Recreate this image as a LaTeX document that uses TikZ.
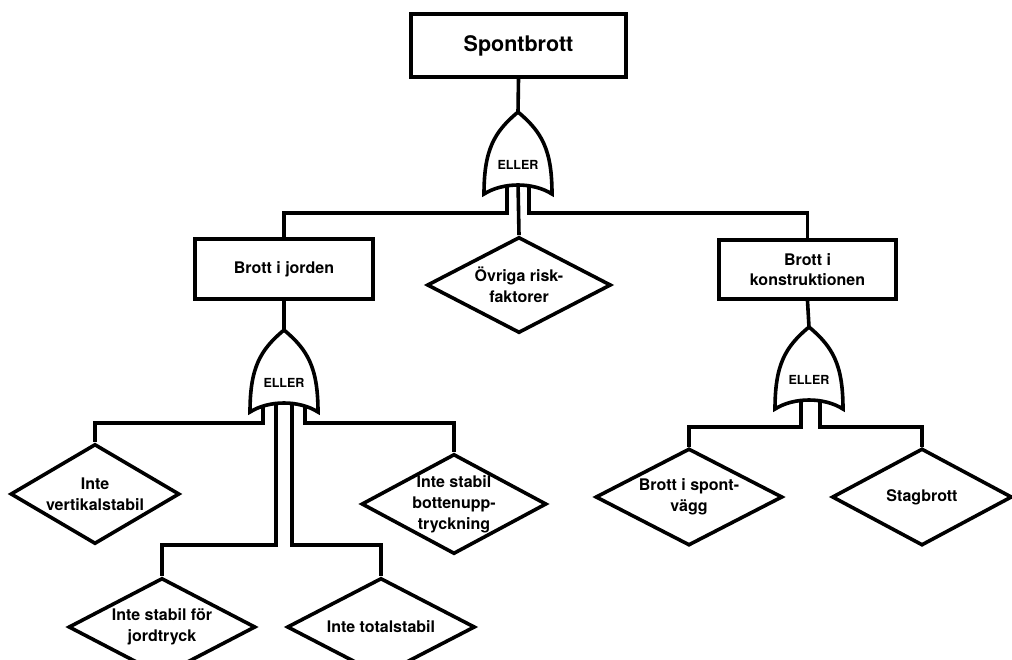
\documentclass[tikz,border=0pt]{standalone}
\usepackage{fontspec}
\setmainfont{TeX Gyre Heros}
\usetikzlibrary{shapes.geometric}
\pgfdeclarelayer{background}
\pgfsetlayers{background,main}

\tikzset{
  event/.style={draw, rectangle, fill=white, inner sep=0pt, align=center,
    font=\fontsize{16}{20}\selectfont\bfseries},
  topevent/.style={event, font=\fontsize{21.5}{26}\selectfont\bfseries},
  basic/.style={draw, diamond, fill=white, inner sep=0pt},
  basictext/.style={align=center, inner sep=0pt,
    font=\fontsize{16}{21}\selectfont\bfseries},
  gatetext/.style={inner sep=0pt, font=\fontsize{12.5}{14}\selectfont\bfseries},
  conn/.style={draw, line width=3.6pt},
  % OR gate with its apex at the origin and inputs along the bottom
  orgate/.pic={
    \draw[fill=white] (0,0) .. controls (-24,20) and (-34,38) .. (-34,82)
       .. controls (-15,70) and (15,70) .. (34,82)
       .. controls (34,38) and (24,20) .. (0,0) -- cycle;
    \node[gatetext] (-label) at (0,53) {ELLER};
    \coordinate (-top) at (0,0);
    \coordinate (-l3) at (-21,70);
    \coordinate (-l2) at (-11,70);
    \coordinate (-l1) at (-8,70);
    \coordinate (-c)  at (0,70);
    \coordinate (-r1) at (8,70);
    \coordinate (-r2) at (11,70);
    \coordinate (-r3) at (21,70);
  }
}

\begin{document}
\begin{tikzpicture}[x=1pt, y=-1pt, line width=3.6pt]
  \useasboundingbox (0,0) rectangle (1012,659);

  % events
  \node[topevent, minimum width=215pt, minimum height=63pt] (top) at (518.5,45.5) {Spontbrott};
  \node[event, minimum width=178pt, minimum height=60pt] (jorden) at (284,269) {Brott i jorden};
  \node[event, minimum width=177pt, minimum height=59pt] (konstr) at (807.5,269.5) {Brott i\\konstruktionen};

  % gates
  \pic (g1) at (518,112) {orgate};
  \pic (g2) at (284,330) {orgate};
  \pic (g3) at (809,327) {orgate};

  % basic events
  \node[basic, minimum width=184pt, minimum height=96pt,
        label={[basictext]center:{Övriga risk-\\faktorer}}] (ovriga) at (519,285) {};
  \node[basic, minimum width=169pt, minimum height=100pt,
        label={[basictext]center:{Inte\\vertikalstabil}}] (vert) at (95,494) {};
  \node[basic, minimum width=185pt, minimum height=100pt,
        label={[basictext]center:{Inte stabil\\bottenupp-\\tryckning}}] (botten) at (454,504) {};
  \node[basic, minimum width=187pt, minimum height=98pt,
        label={[basictext]center:{Inte stabil för\\jordtryck}}] (jord) at (162,627) {};
  \node[basic, minimum width=188pt, minimum height=98pt,
        label={[basictext]center:{Inte totalstabil}}] (total) at (381,627) {};
  \node[basic, minimum width=187pt, minimum height=97pt,
        label={[basictext]center:{Brott i spont-\\vägg}}] (spont) at (689,497) {};
  \node[basic, minimum width=180pt, minimum height=97pt,
        label={[basictext]center:{Stagbrott}}] (stag) at (922,497) {};

  % levels of the horizontal connector runs
  \coordinate (bus1) at (0,213);
  \coordinate (bus2) at (0,423);
  \coordinate (bus3) at (0,545);
  \coordinate (bus4) at (0,427);

  \begin{pgfonlayer}{background}
    \fill[white] (0,0) rectangle (1012,659);
    \path[conn] (top.south) -- (g1-top);
    \path[conn] (g1-l2) |- (jorden.north |- bus1) -- (jorden.north);
    \path[conn] (g1-c) -- (ovriga.north);
    \path[conn] (g1-r2) |- (konstr.north |- bus1) -- (konstr.north);

    \path[conn] (jorden.south) -- (g2-top);
    \path[conn] (g2-l3) |- (vert.north |- bus2) -- (vert.north);
    \path[conn] (g2-l1) |- (jord.north |- bus3) -- (jord.north);
    \path[conn] (g2-r1) |- (total.north |- bus3) -- (total.north);
    \path[conn] (g2-r3) |- (botten.north |- bus2) -- (botten.north);

    \path[conn] (konstr.south) -- (g3-top);
    \path[conn] (g3-l1) |- (spont.north |- bus4) -- (spont.north);
    \path[conn] (g3-r2) |- (stag.north |- bus4) -- (stag.north);
  \end{pgfonlayer}
\end{tikzpicture}
\end{document}
